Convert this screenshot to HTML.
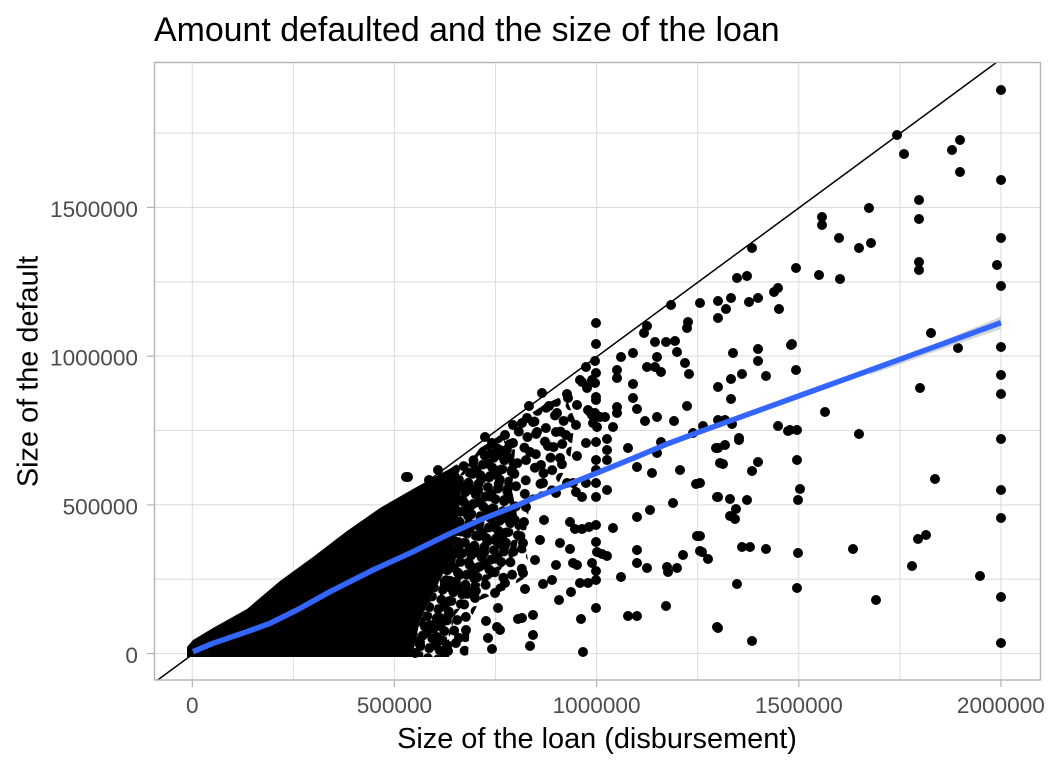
<!DOCTYPE html>
<html><head><meta charset="utf-8"><style>
html,body{margin:0;padding:0;background:#fff;}
svg{display:block;font-family:"Liberation Sans",Arial,sans-serif;}
</style></head><body>
<svg width="1056" height="768" viewBox="0 0 1056 768" xmlns="http://www.w3.org/2000/svg">
<defs>
<clipPath id="pc"><rect x="154" y="62" width="886.7" height="618"/></clipPath>
<pattern id="pd" width="20" height="20" patternUnits="userSpaceOnUse" patternTransform="rotate(13)"><path d="M5 5h0M15 4h0M10 11h0M4 15h0M15 15h0" stroke="#000" stroke-width="10" stroke-linecap="round"/></pattern>
<pattern id="pm" width="28" height="28" patternUnits="userSpaceOnUse" patternTransform="rotate(21)"><path d="M6 6h0M19 8h0M12 17h0M23 21h0M5 23h0" stroke="#000" stroke-width="10" stroke-linecap="round"/></pattern>
</defs>
<rect width="1056" height="768" fill="#fff"/>
<text x="154" y="41" font-size="33.9" fill="#000">Amount defaulted and the size of the loan</text>
<g stroke="#dedede" stroke-width="1.1">
<path d="M192.3 62V680M293.4 62V680M394.4 62V680M495.5 62V680M596.6 62V680M697.7 62V680M798.8 62V680M899.9 62V680M1000.9 62V680"/>
<path d="M154 653.5H1040.7M154 579.2H1040.7M154 504.8H1040.7M154 430.5H1040.7M154 356.1H1040.7M154 281.8H1040.7M154 207.4H1040.7M154 133.1H1040.7"/>
</g>
<g clip-path="url(#pc)">
<polygon fill="url(#pm)" points="430,482 460,462 490,442 520,421 545,404 565,395 575,420 570,460 555,490 530,500 525,540 530,575 505,590 480,600 470,620 468,657 440,657 440,500"/>
<polygon fill="url(#pd)" points="412,657 420,620 435,590 450,560 455,520 460,475 480,448 500,436 515,450 512,490 520,530 515,555 495,575 475,590 455,615 445,657"/>
<polygon fill="#000" points="187,657 187,647 193,640 213,628 247,609 280,581 313,557 347,531 380,508 413,489 440,474 455,466 462,480 458,520 450,560 435,590 420,620 412,657"/>
<path fill="none" stroke="#000" stroke-width="10" stroke-linecap="round" d="M1001 90h0M897 135h0M904 154h0M952 150h0M960 140h0M960 172h0M1001 180h0M919 200h0M919 219h0M869 208h0M822 217h0M822 225h0M839 238h0M859 248h0M871 243h0M1001 238h0M919 262h0M919 270h0M997 265h0M1001 286h0M752 248h0M796 268h0M819 275h0M840 279h0M737 278h0M747 276h0M700 303h0M718 301h0M731 298h0M749 302h0M758 298h0M774 292h0M778 288h0M718 318h0M726 309h0M779 309h0M931 333h0
M792 344h0M958 348h0M1001 347h0M796 370h0M920 388h0M1001 375h0M1001 394h0M825 412h0M790 430h0M797 430h0M859 434h0M1001 439h0M797 460h0
M718 448h0M725 445h0M739 440h0M723 464h0M758 462h0M752 471h0M935 479h0M1001 490h0M800 489h0M798 500h0M700 483h0M718 497h0M730 499h0M747 500h0M736 509h0M730 516h0M735 519h0M1001 518h0M926 535h0M918 539h0M700 536h0M702 552h0M708 559h0M742 547h0M750 547h0M766 549h0M798 553h0M853 549h0M912 566h0M980 576h0M737 584h0M797 588h0M876 600h0M1001 597h0M718 628h0M752 641h0M1001 643h0
M671 305h0M596 323h0M596 344h0M647 326h0M644 333h0M688 322h0M687 328h0M655 342h0M666 342h0M675 341h0M677 352h0M657 357h0M647 367h0M655 367h0M661 372h0M633 353h0M621 357h0M595 361h0M586 367h0M596 373h0M580 380h0M587 388h0M595 383h0M617 370h0M617 378h0M633 384h0M685 363h0M689 374h0M733 353h0M758 349h0M758 361h0M791 345h0M742 374h0M766 376h0M731 379h0M718 387h0M731 399h0M596 397h0M596 400h0M633 398h0M687 406h0M617 407h0M617 413h0M637 409h0M590 412h0M595 413h0M593 423h0M597 427h0M605 417h0M645 421h0M657 417h0M674 421h0M613 427h0M693 433h0M703 426h0M718 420h0M725 420h0M732 424h0M739 438h0M778 426h0M788 431h0M586 443h0M596 442h0M607 439h0M628 448h0M661 442h0M657 453h0M607 450h0
M582 382h0M587 387h0M592 380h0M567 394h0M568 398h0M577 405h0M549 406h0M529 406h0M542 393h0M588 410h0M592 415h0M600 417h0M557 413h0M527 418h0M522 423h0M513 425h0M533 422h0M537 432h0M576 425h0M556 432h0M566 435h0M577 456h0M596 460h0M596 470h0M596 483h0M596 497h0M607 460h0M607 490h0M586 483h0M582 497h0M576 492h0M573 483h0M567 483h0M556 493h0M543 483h0M541 465h0M526 507h0M637 467h0M652 473h0M680 470h0M696 484h0M717 497h0M673 503h0M650 510h0M637 517h0M697 536h0M700 551h0M683 555h0M637 550h0M637 563h0M647 568h0M667 567h0M668 572h0M677 568h0M621 577h0M666 606h0M628 616h0M637 616h0M717 627h0M596 608h0M583 652h0M581 619h0M613 528h0M596 525h0M589 527h0M582 529h0M575 529h0M570 522h0M544 520h0M560 543h0M570 549h0M596 542h0M597 552h0M602 554h0M607 556h0M556 565h0M573 563h0M577 565h0M592 563h0M596 571h0M596 580h0M588 583h0M580 583h0M571 592h0M552 580h0M543 584h0M559 600h0M524 522h0M525 589h0M533 615h0M522 618h0M533 635h0M530 646h0M497 627h0M500 630h0M488 638h0M492 649h0M486 621h0M498 608h0M475 598h0M459 638h0M448 651h0M415 653h0M440 618h0M505 583h0M523 573h0M495 593h0M494 527h0M523 543h0M720 463h0M716 448h0
M408 477h0M518 619h0M437 618h0M427 632h0M437 637h0M429 480h0M438 470h0M485 437h0M492 443h0M505 435h0M513 443h0M406 477h0M430 625h0M420 642h0M447 645h0M466 630h0M500 544h0M535 560h0M540 540h0M512 470h0M530 452h0M548 446h0M560 458h0"/>
<line x1="157.7" y1="680" x2="997" y2="62" stroke="#000" stroke-width="1.5"/>
<polygon fill="#bdbdbd" fill-opacity="0.6" points="870,368 933,345 1001,316.5 1001,329 933,352.5 870,375"/>
<polyline fill="none" stroke="#3366ff" stroke-width="5.5" stroke-linejoin="round" stroke-linecap="butt" points="193,651.7 213,643.3 247,631.7 270,623.3 297,610 330,591.7 373,570 413,551.7 447,535 480,520 518,505 533,498.3 567,485 600,471.7 633,458.3 667,444 700,431.7 750,413.6 800,395.5 850,377.4 900,359.3 950,341.2 1001,322.7"/>
</g>
<rect x="154.5" y="62.5" width="886" height="617.5" fill="none" stroke="#b3b3b3" stroke-width="1.4"/>
<g stroke="#b3b3b3" stroke-width="1.2">
<path d="M147 653.5H154M147 504.8H154M147 356.1H154M147 207.4H154"/>
<path d="M192.3 680V687M394.4 680V687M596.6 680V687M798.8 680V687M1000.9 680V687"/>
</g>
<g font-size="22.6" fill="#4d4d4d" text-anchor="end">
<text x="138" y="663">0</text>
<text x="138" y="514.3">500000</text>
<text x="138" y="365.6">1000000</text>
<text x="138" y="217">1500000</text>
</g>
<g font-size="22.6" fill="#4d4d4d" text-anchor="middle">
<text x="192.3" y="713">0</text>
<text x="394.4" y="713">500000</text>
<text x="596.6" y="713">1000000</text>
<text x="798.8" y="713">1500000</text>
<text x="1000.9" y="713">2000000</text>
</g>
<text x="597" y="748" font-size="28.9" fill="#000" text-anchor="middle">Size of the loan (disbursement)</text>
<text transform="translate(37.5,371.5) rotate(-90)" x="0" y="0" font-size="28.9" fill="#000" text-anchor="middle">Size of the default</text>
</svg>
</body></html>
